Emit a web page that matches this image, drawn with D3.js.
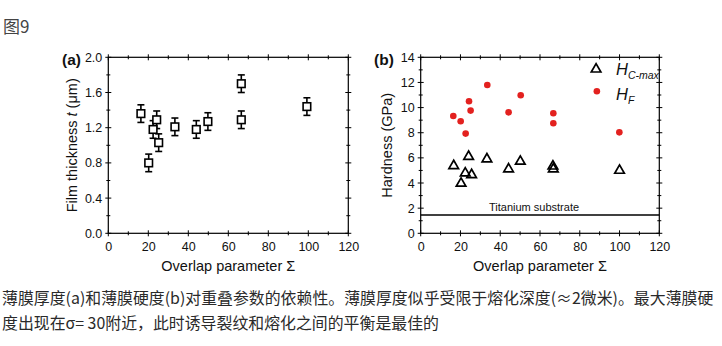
<!DOCTYPE html>
<html><head><meta charset="utf-8">
<script src="https://cdn.jsdelivr.net/npm/d3@7"></script>
<style>
body{margin:0;background:#fff;}
svg{display:block;}
</style></head>
<body>
<svg id="c" width="722" height="346"></svg>
<script>
// Panel (a): film thickness
const aSigma = [16.3, 20.2, 22.4, 24.2, 25.2, 33.3, 44.0, 49.8, 66.5, 66.5, 99.3];
const aThick = [1.36, 0.80, 1.18, 1.29, 1.03, 1.21, 1.18, 1.27, 1.70, 1.29, 1.44];
const aErr   = [0.10, 0.10, 0.10, 0.10, 0.10, 0.10, 0.10, 0.10, 0.10, 0.10, 0.10];
// Panel (b): hardness
const bSigmaC = [16.6, 20.3, 22.4, 24.1, 25.6, 33.3, 44.2, 50.1, 66.5, 66.7, 100.0];
const bHCmax  = [5.43, 4.03, 4.85, 6.17, 4.72, 5.97, 5.17, 5.78, 5.40, 5.17, 5.06];
const bSigmaF = [16.4, 20.1, 22.6, 24.3, 25.1, 33.5, 44.2, 50.3, 66.7, 66.7, 99.9];
const bHF     = [9.33, 8.91, 7.93, 10.50, 9.76, 11.80, 9.62, 10.98, 9.55, 8.75, 8.03];
const substrateH = 1.45;
const xTicks = [0, 20, 40, 60, 80, 100, 120];
const aYTicks = [0.0, 0.4, 0.8, 1.2, 1.6, 2.0];
const bYTicks = [0, 2, 4, 6, 8, 10, 12, 14];

const svg = d3.select("#c");
const FONT = "'Liberation Sans', Arial, sans-serif";

svg.append("text").attr("x", 3).attr("y", 33)
  .attr("font-family", "'Noto Sans CJK SC', sans-serif").attr("font-size", 17)
  .attr("fill", "#444").text("图9");

function panel(opt){
  const g = svg.append("g");
  const x = d3.scaleLinear().domain([0,120]).range([opt.x0, opt.x1]);
  const y = d3.scaleLinear().domain(opt.ydom).range([233.3, 57.3]);
  const xMinor = d3.range(0, 121, 10), yMinor = d3.range(opt.ydom[0], opt.ydom[1] + 1e-9, opt.ymin);
  const tk = g.append("g").attr("stroke", "#000").attr("stroke-width", 1);
  xMinor.forEach(v => {
    const L = (v % 20 === 0) ? 3 : 2;
    tk.append("line").attr("x1", x(v)).attr("x2", x(v)).attr("y1", y.range()[0]-L).attr("y2", y.range()[0]+L);
    tk.append("line").attr("x1", x(v)).attr("x2", x(v)).attr("y1", y.range()[1]-L).attr("y2", y.range()[1]+L);
  });
  yMinor.forEach((v,i) => {
    const L = (i % 2 === 0) ? 3 : 2;
    tk.append("line").attr("y1", y(v)).attr("y2", y(v)).attr("x1", x.range()[0]-L).attr("x2", x.range()[0]+L);
    tk.append("line").attr("y1", y(v)).attr("y2", y(v)).attr("x1", x.range()[1]-L).attr("x2", x.range()[1]+L);
  });
  g.append("rect").attr("x", x(0)).attr("y", y(opt.ydom[1]))
    .attr("width", x(120)-x(0)).attr("height", y(opt.ydom[0])-y(opt.ydom[1]))
    .attr("fill", "none").attr("stroke", "#000").attr("stroke-width", 1.2);
  const xa = g.append("g").attr("transform", `translate(0,${y.range()[0]})`)
    .call(d3.axisBottom(x).tickValues(xTicks).tickSize(0).tickPadding(9));
  xa.select(".domain").remove();
  xa.selectAll("text").attr("font-family", FONT).attr("font-size", 12.5).attr("fill", "#111");
  const ya = g.append("g").attr("transform", `translate(${x.range()[0]},0)`)
    .call(d3.axisLeft(y).tickValues(opt.yticks).tickFormat(opt.fmt).tickSize(0).tickPadding(6));
  ya.select(".domain").remove();
  ya.selectAll("text").attr("font-family", FONT).attr("font-size", 12.5).attr("fill", "#111");
  g.append("text").attr("x", (x(0)+x(120))/2).attr("y", 271).attr("text-anchor", "middle")
    .attr("font-family", FONT).attr("font-size", 14.5).attr("fill", "#111").text("Overlap parameter Σ");
  const yt = g.append("text").attr("transform", `translate(${opt.ytx},${(y.range()[0]+y.range()[1])/2}) rotate(-90)`)
    .attr("text-anchor", "middle").attr("font-family", FONT).attr("font-size", 14.5).attr("fill", "#111");
  opt.ytitle(yt);
  g.append("text").attr("x", opt.lx).attr("y", 65).attr("font-family", FONT).attr("font-weight", "bold")
    .attr("font-size", 15.5).attr("fill", "#111").text(opt.label);
  return {g, x, y};
}

// Panel a
const A = panel({x0:108.3, x1:348.3, ydom:[0,2], ymin:0.2, yticks:aYTicks, fmt:d3.format(".1f"),
  ytx:77, lx:62, label:"(a)",
  ytitle: t => { t.append("tspan").text("Film thickness ");
                 t.append("tspan").attr("font-style","italic").text("t");
                 t.append("tspan").text(" (μm)"); }});
const aData = aSigma.map((s,i)=>({s, v:aThick[i], e:aErr[i]}));
const eb = A.g.append("g").attr("stroke","#000").attr("stroke-width",1.6).attr("fill","none");
aData.forEach(d=>{
  const cx = A.x(d.s), top = A.y(d.v+d.e), bot = A.y(d.v-d.e);
  eb.append("line").attr("x1",cx).attr("x2",cx).attr("y1",top).attr("y2",bot);
  eb.append("line").attr("x1",cx-3.5).attr("x2",cx+3.5).attr("y1",top).attr("y2",top);
  eb.append("line").attr("x1",cx-3.5).attr("x2",cx+3.5).attr("y1",bot).attr("y2",bot);
});
A.g.selectAll("rect.pt").data(aData).join("rect").attr("class","pt")
  .attr("x",d=>A.x(d.s)-3.8).attr("y",d=>A.y(d.v)-3.8).attr("width",7.6).attr("height",7.6)
  .attr("fill","#fff").attr("stroke","#000").attr("stroke-width",1.6);

// Panel b
const B = panel({x0:420.7, x1:659.3, ydom:[0,14], ymin:1, yticks:bYTicks, fmt:d3.format("d"),
  ytx:392, lx:374, label:"(b)",
  ytitle: t => t.text("Hardness (GPa)")});
B.g.append("line").attr("x1",B.x(0)).attr("x2",B.x(120)).attr("y1",B.y(substrateH)).attr("y2",B.y(substrateH))
  .attr("stroke","#000").attr("stroke-width",1.6);
B.g.append("text").attr("x",B.x(57)).attr("y",B.y(substrateH)-4).attr("text-anchor","middle")
  .attr("font-family",FONT).attr("font-size",11).attr("fill","#111").text("Titanium substrate");
const tri = d3.symbol().type(d3.symbolTriangle).size(40);
B.g.selectAll("path.tri").data(bSigmaC.map((s,i)=>({s,v:bHCmax[i]}))).join("path").attr("class","tri")
  .attr("d",tri).attr("transform",d=>`translate(${B.x(d.s)},${B.y(d.v)+0.8})`)
  .attr("fill","none").attr("stroke","#000").attr("stroke-width",1.7);
B.g.selectAll("circle.hf").data(bSigmaF.map((s,i)=>({s,v:bHF[i]}))).join("circle").attr("class","hf")
  .attr("cx",d=>B.x(d.s)).attr("cy",d=>B.y(d.v)).attr("r",3.3).attr("fill","#e3211f");
// legend
B.g.append("path").attr("d",tri).attr("transform",`translate(${B.x(88.2)},${B.y(13.05)})`)
  .attr("fill","none").attr("stroke","#000").attr("stroke-width",1.7);
B.g.append("circle").attr("cx",B.x(88.6)).attr("cy",B.y(11.3)).attr("r",3.3).attr("fill","#e3211f");
const l1 = B.g.append("text").attr("x",616).attr("y",75).attr("font-family",FONT).attr("font-style","italic").attr("fill","#111");
l1.append("tspan").attr("font-size",16.5).text("H");
l1.append("tspan").attr("font-size",10.5).attr("dy",4).text("C-max");
const l2 = B.g.append("text").attr("x",616).attr("y",100).attr("font-family",FONT).attr("font-style","italic").attr("fill","#111");
l2.append("tspan").attr("font-size",16.5).text("H");
l2.append("tspan").attr("font-size",10.5).attr("dy",4).text("F");

// caption
const cap = ["薄膜厚度(a)和薄膜硬度(b)对重叠参数的依赖性。薄膜厚度似乎受限于熔化深度(≈2微米)。最大薄膜硬",
             "度出现在σ= 30附近，此时诱导裂纹和熔化之间的平衡是最佳的"];
svg.selectAll("text.cap").data(cap).join("text").attr("class","cap")
  .attr("x",2).attr("y",(d,i)=>304+i*25)
  .attr("font-family","'Noto Sans CJK SC', sans-serif").attr("font-size",15.9).attr("fill","#2a2a2a")
  .text(d=>d);
</script>
</body></html>
